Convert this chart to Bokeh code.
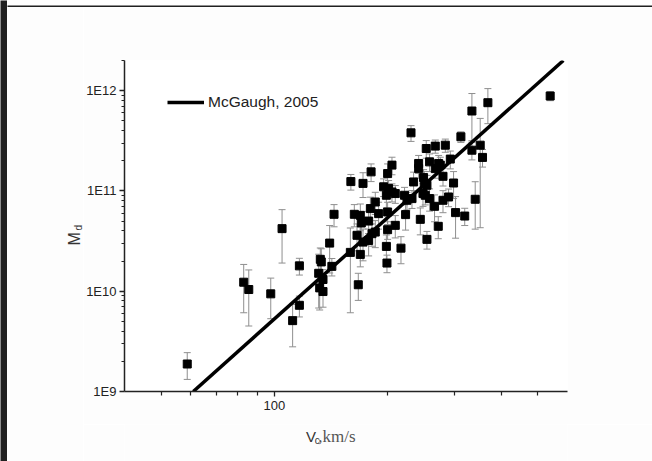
import math
from bokeh.plotting import figure
from bokeh.layouts import row, column
from bokeh.models import (ColumnDataSource, Whisker, TeeHead, FixedTicker, Label,
                          Legend, LegendItem)
from bokeh.embed import file_html
from bokeh.resources import INLINE

# Rotation velocity (km/s) of each galaxy
vc = [58.7, 82.9, 85.5, 97.8, 104.8, 111.8, 116.5, 116.5, 131.1, 132.4,
      133.2, 134.6, 131.9, 134.6, 140.2, 144.0, 142.1, 159.1, 159.6, 171.9,
      163.0, 169.1, 170.1, 177.9, 165.7, 171.9, 177.9, 181.6, 185.3, 169.1,
      167.0, 179.8, 185.3, 189.1, 199.8, 199.8, 209.4, 198.3, 199.0, 216.8,
      223.0, 221.6, 224.9, 231.9, 244.0, 248.0, 251.5, 258.2, 266.2, 280.3,
      290.0, 272.3, 254.1, 302.7, 320.1, 341.3, 195.0, 198.3, 201.0, 205.2,
      209.4, 234.2, 250.0, 254.1, 299.0, 230.5, 334.5, 368.8, 539.7, 312.7,
      253.0, 267.4, 284.3, 334.5, 351.9, 356.9, 293.1, 241.5, 258.2, 272.9,
      241.5, 205.2, 199.8, 180.6, 267.4, 275.7, 248.9, 280.3]

# Disk mass, in units of 1e10 solar masses
md_1e10 = [0.188, 1.23, 1.04, 0.942, 4.21, 0.509, 0.724, 1.79, 1.51, 2.08,
           1.96, 1.31, 1.08, 0.993, 3.02, 5.85, 1.77, 2.44, 12.4, 11.9,
           5.85, 5.71, 4.79, 5.01, 3.61, 3.09, 3.21, 3.75, 3.89, 2.33,
           1.16, 6.67, 7.76, 5.94, 6.17, 4.11, 4.54, 2.80, 1.91, 2.69,
           5.81, 9.06, 8.07, 8.39, 5.21, 9.42, 9.06, 8.39, 7.03, 8.07,
           8.71, 4.44, 3.29, 6.08, 5.62, 8.26, 11.0, 9.06, 10.6, 9.77,
           9.42, 12.3, 12.0, 11.4, 12.0, 38.0, 62.7, 75.9, 88.5, 34.7,
           26.5, 28.0, 28.6, 25.5, 28.6, 21.6, 20.8, 18.8, 19.5, 18.8,
           16.7, 18.1, 14.9, 15.5, 16.7, 18.1, 13.6, 14.0]

# Mass uncertainty, same units
md_err_1e10 = [0.056, 0.62, 0.59, 0.41, 2.3, 0.23, 0.17, 0.34, 0.83, 0.62,
               0.69, 0.33, 0.43, 0.30, 1.5, 1.46, 0.35, 1.83, 2.2, 3.3,
               1.46, 1.7, 1.44, 1.25, 1.08, 1.08, 0.96, 0.94, 1.17, 0.58,
               0.35, 2.0, 1.94, 1.78, 1.54, 0.82, 1.14, 0.84, 0.38, 0.81,
               1.74, 1.8, 1.6, 1.7, 1.56, 2.4, 1.8, 2.1, 2.1, 2.0,
               1.74, 1.1, 0.66, 2.7, 1.1, 4.1, 2.2, 2.3, 2.1, 2.0,
               1.9, 3.1, 3.6, 2.9, 3.6, 6.8, 31.0, 29.0, 9.0, 4.2,
               5.3, 4.2, 4.3, 5.1, 24.3, 4.3, 4.2, 3.8, 3.9, 3.8,
               3.3, 3.6, 3.7, 3.1, 3.3, 3.6, 2.7, 2.8]

# McGaugh (2005) relation, end points
fit_vc = [60.9, 585.0]
fit_md = [1.0e9, 2.0e12]
fit_label = "McGaugh, 2005"

x_major = [100]
x_major_labels = ["100"]
x_minor = [50, 60, 70, 80, 90, 200, 300, 400, 500]
y_major = [1e9, 1e10, 1e11, 1e12]
y_major_labels = ["1E9", "1E10", "1E11", "1E12"]

md = [m * 1e10 for m in md_1e10]
err = [e * 1e10 for e in md_err_1e10]
src = ColumnDataSource(data=dict(
    v=vc, m=md,
    hi=[m + e for m, e in zip(md, err)],
    lo=[m - e for m, e in zip(md, err)],
))

BG = "#fdfdfd"
DARK = "#202020"


def blank(w, h, fill):
    """An axis-less panel whose frame fills the whole canvas (1 unit = 1 px)."""
    f = figure(width=w, height=h, x_range=(0, w), y_range=(0, h),
               x_axis_type=None, y_axis_type=None, output_backend="svg",
               toolbar_location=None, min_border=0)
    f.grid.visible = False
    f.outline_line_color = None
    f.background_fill_color = fill
    f.border_fill_color = fill
    return f


# main chart
p = figure(width=569, height=417, x_axis_type="log", y_axis_type="log",
           x_range=(40, 600), y_range=(1e9, 2e12),
           output_backend="svg", toolbar_location=None,
           min_border_left=40, min_border_right=85,
           min_border_top=53, min_border_bottom=33)
p.background_fill_color = "white"
p.border_fill_color = BG
p.outline_line_color = None
p.grid.visible = False

y_minor = [k * 10 ** e for e in range(9, 13) for k in range(2, 10) if k * 10 ** e <= 2e12]
p.xaxis.ticker = FixedTicker(ticks=x_major, minor_ticks=x_minor)
p.yaxis.ticker = FixedTicker(ticks=y_major, minor_ticks=y_minor)
p.xaxis.major_label_overrides = {float(t): s for t, s in zip(x_major, x_major_labels)}
p.yaxis.major_label_overrides = {float(t): s for t, s in zip(y_major, y_major_labels)}
for ax in p.axis:
    ax.axis_line_width = 1.5
    ax.axis_line_color = "#222222"
    ax.major_tick_line_color = "#222222"
    ax.minor_tick_line_color = "#222222"
    ax.major_tick_line_width = 1.3
    ax.minor_tick_line_width = 1.2
    ax.major_tick_in = 0
    ax.minor_tick_in = 0
    ax.major_tick_out = 5
    ax.major_label_text_font = "Liberation Sans"
    ax.major_label_text_font_size = "13px"
    ax.major_label_text_color = "#222222"
p.xaxis.minor_tick_out = 4
p.yaxis.minor_tick_out = 3
p.xaxis.major_label_standoff = 4
p.yaxis.major_label_standoff = 3

# error bars
head = dict(size=7, line_color="#8f8f8f", line_width=1)
p.add_layout(Whisker(base="v", upper="hi", lower="lo", source=src,
                     line_color="#8f8f8f", line_width=1,
                     upper_head=TeeHead(**head), lower_head=TeeHead(**head)))

# fit line and points
fit = p.line(fit_vc, fit_md, line_width=3.5, line_color="black")
p.scatter("v", "m", source=src, marker="square", size=8,
          fill_color="black", line_color="black")

legend = Legend(items=[LegendItem(label=fit_label, renderers=[fit])],
                location=(43, 280), glyph_width=37, glyph_height=18,
                label_text_font="Liberation Sans", label_text_font_size="15.5px",
                label_text_color="#222222", label_standoff=4, padding=0,
                margin=0, spacing=0, border_line_alpha=0, background_fill_alpha=0)
p.add_layout(legend)


def put(f, text, x, y, size, font="Liberation Sans", color="#333333", angle=0.0):
    f.add_layout(Label(x=x, y=y, text=text, angle=angle, text_font=font,
                       text_font_size=size, text_color=color,
                       text_baseline="alphabetic", text_align="left"))


# x-axis title strip under the chart
xt = blank(569, 37, BG)
put(xt, "V", 233, 25, "15px")
put(xt, "c", 244.5, 21, "10px")
put(xt, ",km/s", 249, 25, "17px", font="Liberation Serif", color="#555555")

# y-axis title strip left of the chart
yt = blank(76, 454, BG)
put(yt, "M", 67, 216, "16px", angle=math.pi / 2)
put(yt, "d", 70.5, 231, "10px", angle=math.pi / 2)

left_edge = blank(7, 461, DARK)
top_edge = blank(645, 7, DARK)

page = row(left_edge,
           column(top_edge,
                  row(yt, column(p, xt, spacing=0), spacing=0),
                  spacing=0),
           spacing=0)
open("out.html", "w").write(file_html(page, INLINE))
